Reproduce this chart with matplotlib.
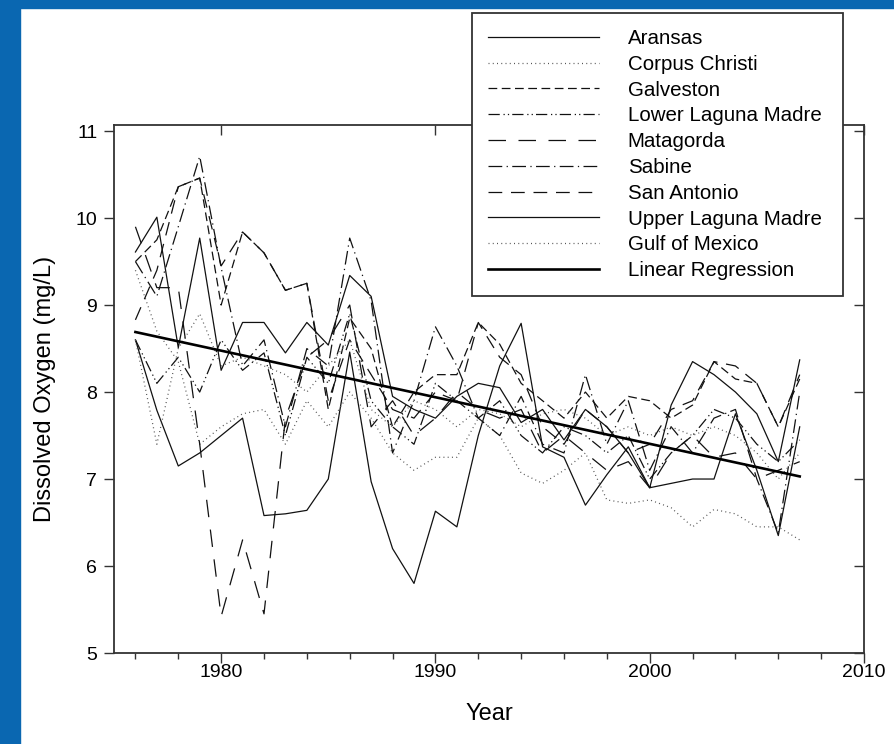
import matplotlib
matplotlib.use('Agg')
import matplotlib.pyplot as plt
from matplotlib.patches import Rectangle

plt.rcParams['font.family'] = ['Liberation Sans', 'DejaVu Sans']

years = list(range(1976, 2008))

aransas = [8.60, 7.79, 7.15, 7.30, 7.50, 7.70, 6.58, 6.60, 6.64, 7.00, 8.46, 6.97,
           6.20, 5.80, 6.63, 6.45, 7.50, 8.30, 8.79, 7.37, 7.25, 6.70, 7.05, 7.37,
           6.90, 6.95, 7.00, 7.00, 7.75, 7.10, 6.35, 7.60]
corpus_christi = [9.40, 8.70, 8.35, 7.40, 7.60, 7.75, 7.80, 7.40, 7.90, 7.60, 8.00, 7.70,
                  7.30, 7.10, 7.25, 7.25, 7.70, 7.50, 7.07, 6.95, 7.10, 7.30, 6.76, 6.72,
                  6.76, 6.67, 6.45, 6.65, 6.60, 6.45, 6.45, 6.30]
galveston = [9.50, 9.75, 10.36, 10.46, 9.00, 9.84, 9.60, 9.17, 9.25, 7.80, 8.85, 8.50,
             7.60, 8.00, 8.20, 8.20, 8.80, 8.55, 8.10, 7.90, 7.70, 8.00, 7.70, 7.95,
             7.90, 7.70, 7.85, 8.35, 8.15, 8.10, 7.60, 8.15]
lower_laguna = [8.60, 8.10, 8.40, 8.00, 8.60, 8.25, 8.45, 7.50, 8.40, 8.10, 8.90, 7.90,
                7.60, 7.40, 8.10, 7.90, 7.70, 7.90, 7.50, 7.30, 7.60, 7.50, 7.30, 7.50,
                7.00, 7.30, 7.50, 7.80, 7.70, 7.40, 7.20, 7.45]
matagorda = [9.90, 9.20, 9.20, 7.40, 5.42, 6.30, 5.45, 7.70, 8.40, 8.60, 9.00, 7.60,
             7.90, 7.50, 7.70, 8.00, 7.80, 7.70, 7.80, 7.30, 7.50, 7.30, 7.10, 7.20,
             6.90, 7.30, 7.50, 7.25, 7.30, 7.00, 7.10, 7.20]
sabine = [9.50, 9.10, 9.90, 10.71, 9.43, 8.30, 8.60, 7.60, 8.50, 8.30, 9.77, 9.05,
          7.30, 7.90, 8.75, 8.30, 7.70, 7.50, 7.95, 7.40, 7.30, 8.20, 7.40, 7.90,
          7.10, 7.60, 7.30, 7.70, 7.80, 7.00, 6.38, 8.00]
san_antonio = [8.83, 9.40, 10.36, 10.46, 9.45, 9.84, 9.60, 9.17, 9.25, 7.90, 8.60, 8.20,
               7.80, 7.70, 8.00, 7.90, 8.80, 8.40, 8.20, 7.60, 7.40, 7.80, 7.60, 7.30,
               7.40, 7.80, 7.90, 8.35, 8.30, 8.10, 7.60, 8.20]
upper_laguna = [9.61, 10.01, 8.51, 9.77, 8.25, 8.80, 8.80, 8.45, 8.80, 8.54, 9.34, 9.10,
                7.95, 7.80, 7.70, 7.95, 8.10, 8.05, 7.65, 7.80, 7.45, 7.80, 7.60, 7.30,
                6.90, 7.85, 8.35, 8.20, 8.00, 7.75, 7.20, 8.37]
gulf = [8.60, 7.40, 8.50, 8.90, 8.30, 8.40, 8.30, 8.20, 8.00, 8.30, 8.60, 7.80,
        7.60, 7.90, 7.80, 7.60, 7.80, 7.75, 7.60, 7.75, 7.80, 7.70, 7.50, 7.60,
        7.50, 7.60, 7.50, 7.60, 7.50, 7.30, 7.00, 7.30]

reg_years = [1976, 2007]
reg_values = [8.69, 7.03]

names = ['Aransas', 'Corpus Christi', 'Galveston', 'Lower Laguna Madre', 'Matagorda',
         'Sabine', 'San Antonio', 'Upper Laguna Madre', 'Gulf of Mexico']
series = [aransas, corpus_christi, galveston, lower_laguna, matagorda,
          sabine, san_antonio, upper_laguna, gulf]
dashes = [None, (0.8, 2.6), (7, 3.6), (9, 3, 1, 2.5, 1, 2.5), (14, 10),
          (11, 3.5, 1, 3.5), (11, 7), None, (0.8, 2.6)]
colors = ['#111111', '#555555', '#111111', '#111111', '#111111',
          '#111111', '#111111', '#111111', '#555555']

fig = plt.figure(figsize=(8.95, 7.44), dpi=100)
# blue slide border
fig.patches.append(Rectangle((0, 0), 20 / 895, 1, transform=fig.transFigure,
                             color='#0a67b1', zorder=0))
fig.patches.append(Rectangle((0, 1 - 8 / 744), 1, 8 / 744, transform=fig.transFigure,
                             color='#0a67b1', zorder=0))

ax = fig.add_axes([114 / 895, 1 - 653 / 744, 750 / 895, 528 / 744])

for name, vals, d, c in zip(names, series, dashes, colors):
    line, = ax.plot(years, vals, color=c, lw=0.9, label=name)
    if d is not None:
        line.set_dashes(d)
ax.plot(reg_years, reg_values, color='black', lw=1.9, label='Linear Regression')

ax.set_xlim(1975, 2010)
ax.set_ylim(5, 11.07)
ax.set_xticks(range(1980, 2011, 10))
ax.set_xticks(range(1976, 2010, 2), minor=True)
ax.set_yticks(range(5, 12))
ax.tick_params(axis='both', which='major', direction='out', length=7, width=1,
               labelsize=14, color='#333333')
ax.tick_params(axis='x', which='minor', direction='out', length=4, width=1, color='#333333')
ax.tick_params(axis='x', pad=1)
ax.tick_params(axis='y', pad=5)
for s in ax.spines.values():
    s.set_linewidth(1.3)
    s.set_color('#333333')

top = ax.secondary_xaxis('top')
top.set_xticks(range(1980, 2011, 10))
top.tick_params(direction='in', length=7, width=1, labeltop=False, color='#333333')
top.spines['top'].set_visible(False)
right = ax.secondary_yaxis('right')
right.set_yticks(range(5, 12))
right.tick_params(direction='in', length=7, width=1, labelright=False, color='#333333')
right.spines['right'].set_visible(False)

ax.set_xlabel('Year', fontsize=17, labelpad=16)
ax.set_ylabel('Dissolved Oxygen (mg/L)', fontsize=17, labelpad=14)

leg = ax.legend(loc='upper left',
                bbox_to_anchor=(472 / 895, 1 - 296 / 744, 371 / 895, 283 / 744),
                bbox_transform=fig.transFigure, mode='expand', fontsize=14.8,
                frameon=True, fancybox=False, edgecolor='#333333', handlelength=5.4,
                handletextpad=1.4, labelspacing=0.33, borderpad=0.78,
                borderaxespad=0)
leg.get_frame().set_linewidth(1.3)
leg.get_frame().set_alpha(1)

fig.savefig('out.png', dpi=100)
